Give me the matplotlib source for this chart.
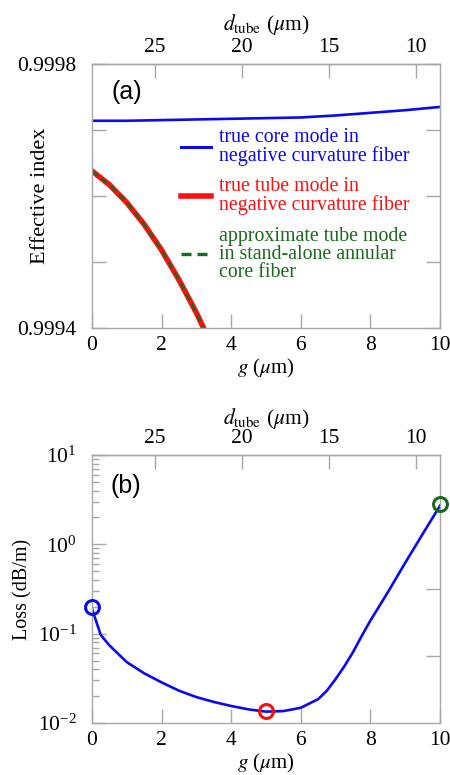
import numpy as np
import matplotlib
matplotlib.use("Agg")
import matplotlib.pyplot as plt
from matplotlib.ticker import FixedLocator, FixedFormatter, LogLocator, NullFormatter

plt.rcParams['font.family'] = ['Liberation Serif', 'DejaVu Serif']
plt.rcParams['mathtext.fontset'] = 'stix'

# ---------------- data ----------------
# panel (a): effective index vs gap g (um)
g_core = [0, 1, 2, 3, 4, 5, 6, 7, 8, 9, 10]
n_core = [0.999714, 0.999714, 0.999715, 0.999716, 0.999717, 0.999718,
          0.999719, 0.999722, 0.999726, 0.999730, 0.999735]
g_tube = [0, 0.5, 1.0, 1.5, 2.0, 2.5, 3.0, 3.5]
n_tube = [0.999638, 0.999617, 0.999590, 0.999557, 0.999518, 0.999473,
          0.999423, 0.999367]
n_tube_approx = [0.999638, 0.999617, 0.999590, 0.999557, 0.999518, 0.999473,
                 0.999423, 0.999367]
legend_labels = ["true core mode in\nnegative curvature fiber",
                 "true tube mode in\nnegative curvature fiber",
                 "approximate tube mode\nin stand-alone annular\ncore fiber"]

# panel (b): loss vs g
g_loss = [0, 0.25, 0.5, 1.0, 1.5, 2.0, 2.5, 3.0, 3.5, 4.0, 4.5, 5.0, 5.5,
          6.0, 6.5, 6.75, 7.0, 7.25, 7.5, 7.75, 8.0, 8.5, 9.0, 9.5, 10.0]
loss = [0.19, 0.097, 0.074, 0.048, 0.036, 0.0285, 0.023, 0.0195, 0.0172,
        0.0155, 0.0142, 0.0134, 0.0136, 0.0148, 0.0185, 0.023, 0.031, 0.043,
        0.062, 0.094, 0.14, 0.29, 0.62, 1.3, 2.7]
mark_g = [0, 5, 10]
mark_loss = [0.2, 0.0135, 2.8]
mark_colors = ['#0a0af0', '#f01010', '#1b6a1b']

d_ticks = [25, 20, 15, 10]

def g2d(g):
    return 28.6 - 2.0 * np.asarray(g)

def d2g(d):
    return (28.6 - np.asarray(d)) / 2.0

BLUE = '#0a0af0'
RED = '#ff1010'
GREEN = '#1b6a1b'
GRAY = '#a8a8a8'

fig = plt.figure(figsize=(4.5, 7.75), dpi=100)

def style_axis(ax):
    for s in ax.spines.values():
        s.set_color(GRAY)
        s.set_linewidth(1.0)
    ax.tick_params(which='both', direction='in', color=GRAY, width=1.0,
                   labelsize=15.5, top=False, right=True)
    ax.tick_params(which='major', length=10)
    ax.tick_params(axis='y', pad=11)
    ax.tick_params(axis='x', pad=6)

def add_top(ax, labelpad):
    sec = ax.secondary_xaxis('top', functions=(g2d, d2g))
    sec.set_xticks(d_ticks)
    sec.set_xticklabels([str(v) for v in d_ticks])
    sec.tick_params(direction='in', color=GRAY, width=1.0, length=10,
                    labelsize=15.5, pad=5)
    sec.spines['top'].set_color(GRAY)
    sec.spines['top'].set_linewidth(1.0)
    sec.set_xlabel(r'$d_{\mathrm{tube}}$ ($\mu$m)', fontsize=15.5, labelpad=labelpad)
    return sec

# ---------------- panel (a) ----------------
ax1 = fig.add_axes([0.2044, 0.5768, 0.7733, 0.3406])
ax1.plot(g_core, n_core, color=BLUE, lw=1.9, label=legend_labels[0])
ax1.plot(g_tube, n_tube, color=RED, lw=4.0, label=legend_labels[1])
ax1.plot(g_tube, n_tube_approx, color=GREEN, lw=1.8, ls=(0, (3.0, 1.8)),
         label=legend_labels[2])
ax1.set_xlim(0, 10)
ax1.set_ylim(0.9994, 0.9998)
ax1.set_xticks([0, 2, 4, 6, 8, 10])
yt = [0.9994, 0.9995, 0.9996, 0.9997, 0.9998]
ax1.yaxis.set_major_locator(FixedLocator(yt))
ax1.yaxis.set_major_formatter(FixedFormatter(['0.9994', '', '', '', '0.9998']))
style_axis(ax1)
ax1.set_xlabel(r'$g$ ($\mu$m)', fontsize=15, labelpad=1)
ax1.set_ylabel('Effective index', fontsize=16)
ax1.yaxis.set_label_coords(-0.12, 0.5)
add_top(ax1, 6)
ax1.text(0.055, 0.895, '(a)', transform=ax1.transAxes, fontsize=18,
         family='Liberation Sans', va='center', ha='left')
leg = ax1.legend(loc='upper left', bbox_to_anchor=(0.255, 0.758), frameon=False,
                 fontsize=14.3, handlelength=1.5, handletextpad=0.45,
                 labelspacing=0.58, borderpad=0, borderaxespad=0)
for t, c in zip(leg.get_texts(), [BLUE, RED, GREEN]):
    t.set_color(c)
    t.set_linespacing(0.93)
for h, lw in zip(leg.get_lines(), [2.2, 4.0, 2.4]):
    h.set_linewidth(lw)

# ---------------- panel (b) ----------------
ax2 = fig.add_axes([0.2044, 0.0671, 0.7733, 0.3458])
ax2.plot(g_loss, loss, color=BLUE, lw=1.9)
for gx, ly, c in zip(mark_g, mark_loss, mark_colors):
    ax2.plot([gx], [ly], 'o', ms=10, mfc='none', mec=c, mew=2.2,
             clip_on=False, zorder=5)
ax2.set_yscale('log')
ax2.set_xlim(0, 10)
ax2.set_ylim(1e-2, 1e1)
ax2.set_xticks([0, 2, 4, 6, 8, 10])
ax2.yaxis.set_major_locator(LogLocator(base=10, numticks=10))
ax2.yaxis.set_minor_locator(LogLocator(base=10, subs=np.arange(2, 10), numticks=10))
ax2.yaxis.set_minor_formatter(NullFormatter())
style_axis(ax2)
ax2.tick_params(which='both', right=False)
ax2.tick_params(which='minor', length=5)
ax2.set_xlabel(r'$g$ ($\mu$m)', fontsize=15, labelpad=1)
ax2.set_ylabel('Loss (dB/m)', fontsize=14.5)
ax2.yaxis.set_label_coords(-0.17, 0.5)
add_top(ax2, 4)
ax2.text(0.052, 0.885, '(b)', transform=ax2.transAxes, fontsize=18,
         family='Liberation Sans', va='center', ha='left')
# right-side ticks
axr = ax2.twinx()
axr.set_ylim(0, 1)
axr.set_yticks([0.25, 0.5])
axr.set_yticklabels([])
axr.tick_params(direction='in', color=GRAY, width=1.0, length=10)
for s in axr.spines.values():
    s.set_visible(False)

fig.savefig('out.png', dpi=100)
